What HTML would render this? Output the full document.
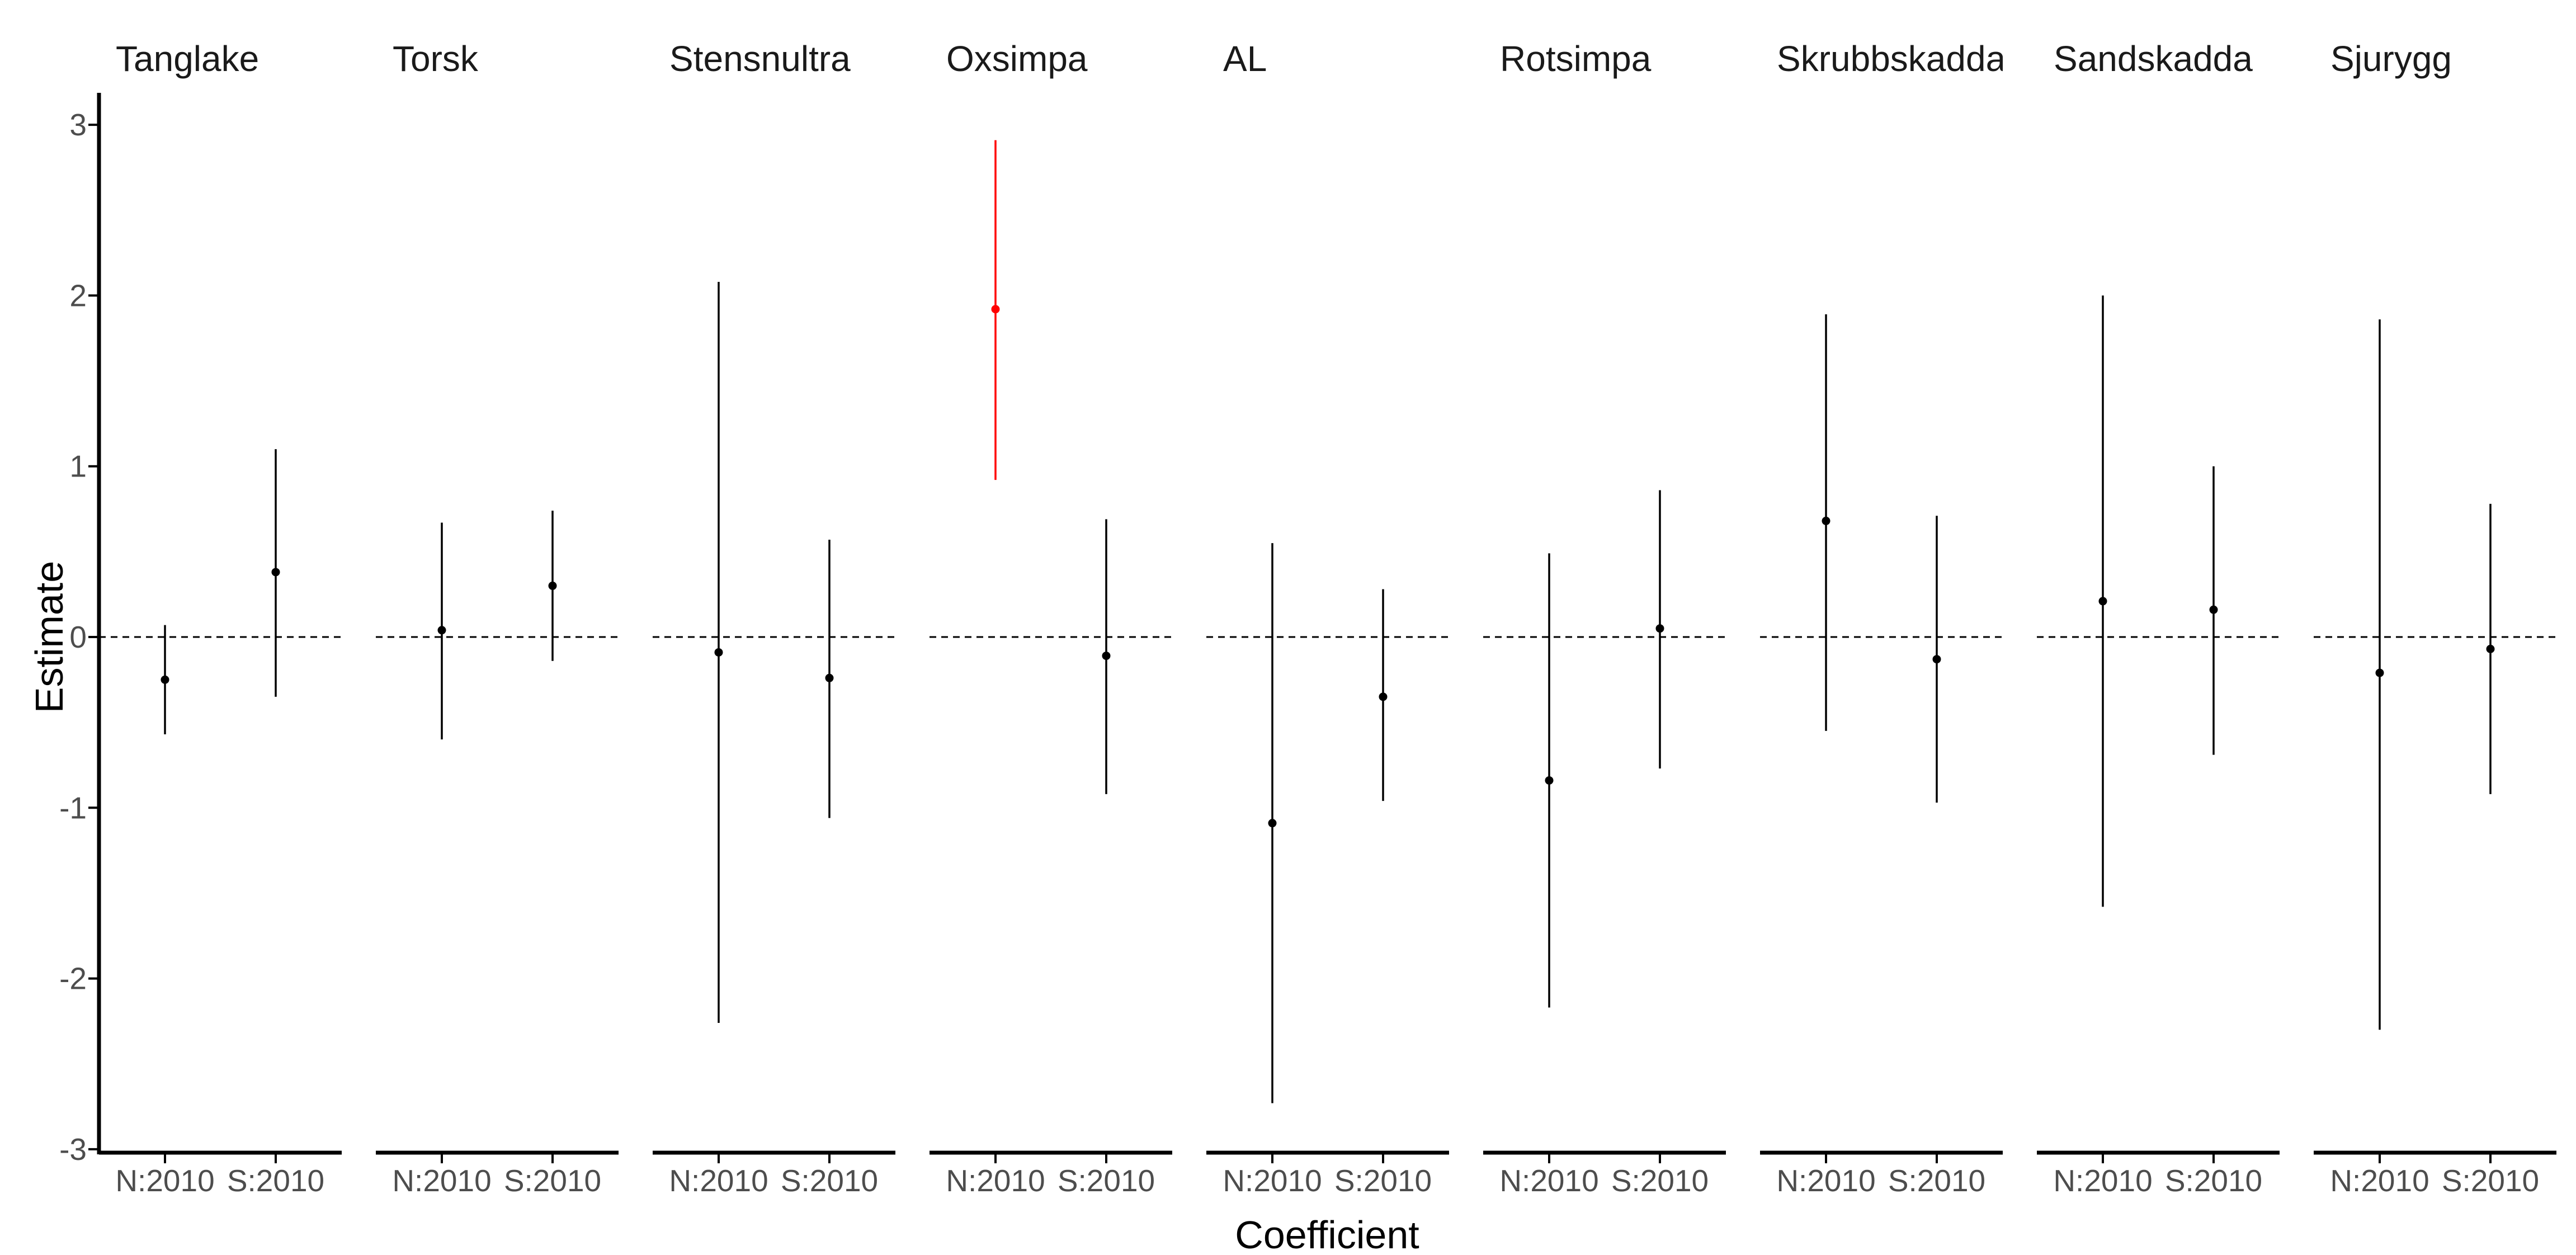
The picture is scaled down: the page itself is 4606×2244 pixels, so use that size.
<!DOCTYPE html>
<html><head><meta charset="utf-8"><style>
html,body{margin:0;padding:0;background:#fff;}
svg{display:block;font-family:"Liberation Sans",Arial,sans-serif;}
</style></head><body>
<svg id="chart" width="4606" height="2244" viewBox="0 0 4606 2244" xmlns="http://www.w3.org/2000/svg">
<rect width="4606" height="2244" fill="#fff"/>
<g id="plot"></g>
<text x="88" y="1139" transform="rotate(-90 88 1139)" text-anchor="middle" dominant-baseline="central" font-size="70" fill="#000">Estimate</text>
<text x="2373" y="2232" text-anchor="middle" font-size="70" fill="#000">Coefficient</text>
</svg>
<script>
const species = ["Tanglake","Torsk","Stensnultra","Oxsimpa","AL","Rotsimpa","Skrubbskadda","Sandskadda","Sjurygg"];
const categories = ["N:2010","S:2010"];
const estN = [-0.25,0.04,-0.09,1.92,-1.09,-0.84,0.68,0.21,-0.21];
const lowN = [-0.57,-0.60,-2.26,0.92,-2.73,-2.17,-0.55,-1.58,-2.30];
const highN = [0.07,0.67,2.08,2.91,0.55,0.49,1.89,2.00,1.86];
const estS = [0.38,0.30,-0.24,-0.11,-0.35,0.05,-0.13,0.16,-0.07];
const lowS = [-0.35,-0.14,-1.06,-0.92,-0.96,-0.77,-0.97,-0.69,-0.92];
const highS = [1.10,0.74,0.57,0.69,0.28,0.86,0.71,1.00,0.78];
const significantN = [false,false,false,true,false,false,false,false,false];
const yTicks = [-3,-2,-1,0,1,2,3];

const NS="http://www.w3.org/2000/svg";
const g=document.getElementById('plot');
const y0px=1139, unit=305.3;
function yScale(v){return y0px - v*unit;}
const panelLeft0=177, panelW=434, panelStep=495;
function panelX(i){return panelLeft0 + i*panelStep;}
function xScale(i,c){return panelX(i) + panelW/2 + (c===0?-99:99);}
function mk(tag,attrs,parent){const e=document.createElementNS(NS,tag);for(const k in attrs)e.setAttribute(k,attrs[k]);(parent||g).appendChild(e);return e;}

let ax=mk('line',{x1:177,x2:177,y1:166,y2:2064,stroke:'#000','stroke-width':7});


yTicks.forEach(t=>{
  const y=yScale(t);
  let tk=mk('line',{x1:158,x2:177,y1:y,y2:y,stroke:'#000','stroke-width':4});
  
  
  let tl=mk('text',{x:155,y:y,'text-anchor':'end','dominant-baseline':'central','font-size':55,fill:'#4d4d4d'});
  tl.textContent=String(t);
  
  
});

species.forEach((sp,i)=>{
  const L=panelX(i);
  const clip=mk('clipPath',{id:'clip'+i});
  mk('rect',{x:L,y:0,width:panelW,height:200},clip);
  let lab=mk('text',{x:L+30,y:127,'font-size':64,fill:'#1a1a1a','clip-path':'url(#clip'+i+')'});
  lab.textContent=sp;
  
  
  let xa=mk('line',{x1:L,x2:L+panelW,y1:2061,y2:2061,stroke:'#000','stroke-width':7});
  
  
  let zl=mk('line',{x1:L,x2:L+panelW,y1:yScale(0),y2:yScale(0),stroke:'#000','stroke-width':3,'stroke-dasharray':'12 9'});
  
  
  categories.forEach((c,ci)=>{
    const x=xScale(i,ci);
    let tk=mk('line',{x1:x,x2:x,y1:2061,y2:2080,stroke:'#000','stroke-width':4});
    
    
    let tl=mk('text',{x:x,y:2130,'text-anchor':'middle','font-size':55,fill:'#4d4d4d'});
    tl.textContent=c;
    
    
    const est=ci===0?estN[i]:estS[i], lo=ci===0?lowN[i]:lowS[i], hi=ci===0?highN[i]:highS[i];
    const col=(ci===0&&significantN[i])?'#ff0000':'#000';
    let er=mk('line',{x1:x,x2:x,y1:yScale(lo),y2:yScale(hi),stroke:col,'stroke-width':3.5});
    
    
    let pt=mk('circle',{cx:x,cy:yScale(est),r:7.5,fill:col});
    
    
  });
});
</script>
</body></html>
